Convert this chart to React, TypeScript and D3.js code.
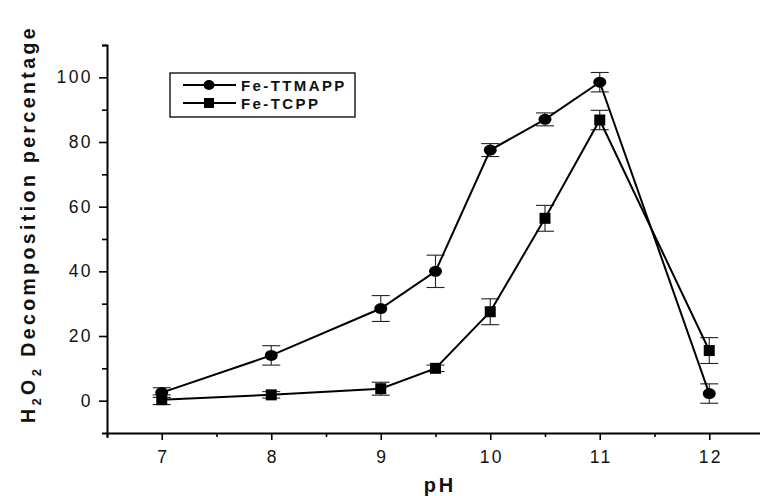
import React, { useEffect, useRef } from 'react';
import * as d3 from 'd3';

const phValues = [7, 8, 9, 9.5, 10, 10.5, 11, 12];
const ttmapp = [2.5, 14, 28.5, 40, 77.5, 87, 98.5, 2.2];
const ttmappErr = [1.5, 3, 4, 5, 2, 2, 3, 3];
const tcpp = [0.3, 1.8, 3.7, 10, 27.5, 56.4, 86.8, 15.5];
const tcppErr = [1.5, 1, 2, 1, 4, 4, 3, 4];
const xTicks = [7, 8, 9, 10, 11, 12];
const xMinorTicks = [6.5, 7.5, 8.5, 9.5, 10.5, 11.5];
const yTicks = [0, 20, 40, 60, 80, 100];
const yMinorTicks = [10, 30, 50, 70, 90, 110];
const seriesNames = ['Fe-TTMAPP', 'Fe-TCPP'];

const W = 760;
const H = 496;
const FONT = "'Liberation Sans', Arial, sans-serif";

const App = () => {
  const ref = useRef<SVGSVGElement>(null);

  useEffect(() => {
    const svg = d3.select(ref.current);
    svg.selectAll('*').remove();

    const x = d3.scaleLinear().domain([6.5, 12.5]).range([107, 764]);
    const y = d3.scaleLinear().domain([-10, 110]).range([433, 45]);

    // axes
    const xAxis = svg.append('g').attr('transform', `translate(0,${y(-10)})`);
    xAxis.call(d3.axisBottom(x).tickValues(xTicks).tickSize(7).tickSizeOuter(5).tickPadding(11).tickFormat(d3.format('d')));
    const xMinor = svg.append('g').attr('transform', `translate(0,${y(-10)})`);
    xMinor.call(d3.axisBottom(x).tickValues(xMinorTicks).tickSize(4).tickFormat(() => ''));

    const yAxis = svg.append('g').attr('transform', `translate(${x(6.5)},0)`);
    yAxis.call(d3.axisLeft(y).tickValues(yTicks).tickSize(8).tickSizeOuter(5).tickPadding(6).tickFormat(d3.format('d')));
    const yMinor = svg.append('g').attr('transform', `translate(${x(6.5)},0)`);
    yMinor.call(d3.axisLeft(y).tickValues(yMinorTicks).tickSize(5).tickFormat(() => ''));

    svg.selectAll('.domain').attr('stroke', '#000').attr('stroke-width', 2);
    svg.selectAll('.tick line').attr('stroke', '#000').attr('stroke-width', 1.6);
    svg.selectAll('.tick text')
      .attr('font-family', FONT)
      .attr('font-size', 17.5)
      .attr('letter-spacing', 2.4)
      .attr('fill', '#111');
    xAxis.selectAll('.tick text').attr('dx', 1);
    xMinor.select('.domain').remove();
    yMinor.select('.domain').remove();

    const line = d3.line<number>()
      .x((_, i) => x(phValues[i]))
      .y((d) => y(d));

    const drawSeries = (vals: number[], errs: number[], marker: 'circle' | 'square') => {
      const g = svg.append('g');
      // error bars
      vals.forEach((v, i) => {
        const cx = x(phValues[i]);
        const y0 = y(v - errs[i]);
        const y1 = y(v + errs[i]);
        g.append('line').attr('x1', cx).attr('x2', cx).attr('y1', y0).attr('y2', y1)
          .attr('stroke', '#222').attr('stroke-width', 1.1);
        [y0, y1].forEach((yy) => {
          g.append('line').attr('x1', cx - 9).attr('x2', cx + 9).attr('y1', yy).attr('y2', yy)
            .attr('stroke', '#222').attr('stroke-width', 1.1);
        });
      });
      g.append('path').datum(vals).attr('d', line)
        .attr('fill', 'none').attr('stroke', '#000').attr('stroke-width', 2);
      vals.forEach((v, i) => {
        const cx = x(phValues[i]);
        const cy = y(v);
        if (marker === 'circle') {
          g.append('ellipse').attr('cx', cx).attr('cy', cy).attr('rx', 6.5).attr('ry', 5.5).attr('fill', '#000');
        } else {
          g.append('rect').attr('x', cx - 5.5).attr('y', cy - 5.5).attr('width', 11).attr('height', 11).attr('fill', '#000');
        }
      });
    };

    drawSeries(ttmapp, ttmappErr, 'circle');
    drawSeries(tcpp, tcppErr, 'square');

    // legend
    const lg = svg.append('g');
    lg.append('rect').attr('x', 170).attr('y', 73).attr('width', 185).attr('height', 44)
      .attr('fill', 'none').attr('stroke', '#111').attr('stroke-width', 1.4);
    seriesNames.forEach((name, i) => {
      const ly = 85 + i * 18;
      lg.append('line').attr('x1', 183).attr('x2', 236).attr('y1', ly).attr('y2', ly)
        .attr('stroke', '#000').attr('stroke-width', 2);
      if (i === 0) {
        lg.append('ellipse').attr('cx', 209).attr('cy', ly).attr('rx', 5.5).attr('ry', 5).attr('fill', '#000');
      } else {
        lg.append('rect').attr('x', 204).attr('y', ly - 5).attr('width', 10).attr('height', 10).attr('fill', '#000');
      }
      lg.append('text').attr('x', 241).attr('y', ly + 5.5).text(name)
        .attr('font-family', FONT).attr('font-size', 15).attr('font-weight', 'bold')
        .attr('letter-spacing', 2.4).attr('fill', '#111');
    });

    // axis titles
    svg.append('text').attr('x', 440).attr('y', 492).attr('text-anchor', 'middle')
      .attr('font-family', FONT).attr('font-size', 20).attr('font-weight', 'bold')
      .attr('letter-spacing', 3).attr('fill', '#111').text('pH');

    const yt = svg.append('text')
      .attr('transform', 'translate(35,423) rotate(-90)')
      .attr('font-family', FONT).attr('font-size', 19.5).attr('font-weight', 'bold')
      .attr('letter-spacing', 3.4).attr('fill', '#111');
    yt.append('tspan').text('H');
    yt.append('tspan').attr('dy', 6).attr('font-size', 13).text('2');
    yt.append('tspan').attr('dy', -6).text('O');
    yt.append('tspan').attr('dy', 6).attr('font-size', 13).text('2');
    yt.append('tspan').attr('dy', -6).text(' Decomposition percentage');
  }, []);

  return (
    <svg
      ref={ref}
      width={W}
      height={H}
      style={{ position: 'absolute', left: 0, top: 0, background: '#fff' }}
    />
  );
};

export default App;
